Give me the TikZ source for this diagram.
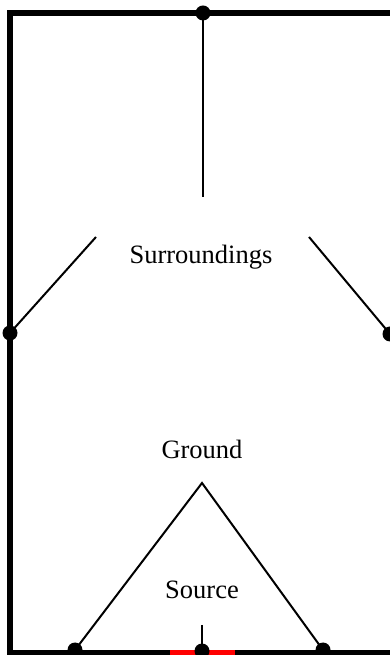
\documentclass[tikz,border=0pt]{standalone}
\usepackage{fontspec}
\setmainfont{Liberation Serif}
\begin{document}
\begin{tikzpicture}[x=1pt,y=1pt,
  border/.style={line width=6pt},
  conn/.style={line width=2pt},
  dot/.style={circle,fill=black,inner sep=0pt,minimum size=15pt},
  lbl/.style={font=\fontsize{26.5}{30}\selectfont,inner sep=0pt}]
\useasboundingbox (0,0) rectangle (390,655);
\clip (0,0) rectangle (390,655);
\fill[white] (0,0) rectangle (390,655);
% border
\draw[border] (400,642) -- (10,642) -- (10,2) -- (400,2) -- (400,642);
\draw[line width=6pt,red] (170,2) -- (235,2);
% labels
\node[lbl] (sur) at (201,398) {Surroundings};
\node[lbl] (gnd) at (202,205.5) {Ground};
\node[lbl] (src) at (202,65) {Source};
% junction coordinates
\coordinate (tl) at (203,458);
\coordinate (ll) at (96,418);
\coordinate (rl) at (309,418);
\coordinate (apex) at (202,172);
\coordinate (sl) at (202,30);
\node[dot] (T) at (203,642) {};
\node[dot] (L) at (10,322) {};
\node[dot] (R) at (390,321) {};
\node[dot] (BL) at (75,5) {};
\node[dot] (BR) at (323,5) {};
\node[dot] (BM) at (202,4) {};
% connectors
\draw[conn] (T.center) -- (tl);
\draw[conn] (ll) -- (L.center);
\draw[conn] (rl) -- (R.center);
\draw[conn] (BL.center) -- (apex) -- (BR.center);
\draw[conn] (sl) -- (BM.center);
\end{tikzpicture}
\end{document}
